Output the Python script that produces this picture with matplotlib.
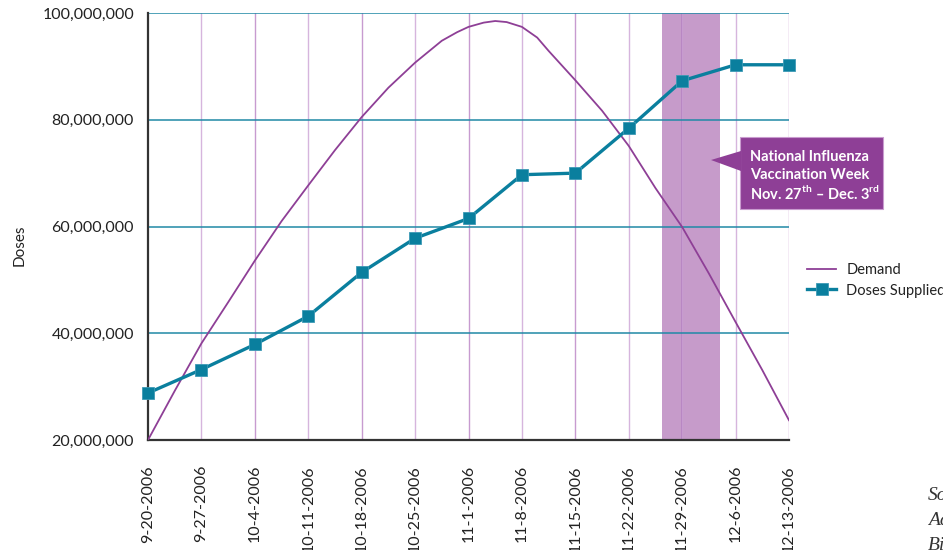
import matplotlib
matplotlib.use("Agg")
import matplotlib.pyplot as plt
import matplotlib.patches as mpatches
import pandas as pd
import numpy as np

plt.rcParams["font.family"] = ["Lato", "DejaVu Sans"]
plt.rcParams["mathtext.fontset"] = "custom"
plt.rcParams["mathtext.rm"] = "Lato"
plt.rcParams["mathtext.bf"] = "Lato:bold"

# Weekly reporting dates and cumulative doses supplied
week_labels = ["9-20-2006", "9-27-2006", "10-4-2006", "10-11-2006", "10-18-2006",
               "10-25-2006", "11-1-2006", "11-8-2006", "11-15-2006", "11-22-2006",
               "11-29-2006", "12-6-2006", "12-13-2006"]
doses_supplied = [28.8e6, 33.2e6, 37.9e6, 43.2e6, 51.4e6, 57.8e6, 61.5e6,
                  69.7e6, 70.0e6, 78.4e6, 87.3e6, 90.3e6, 90.3e6]

# Demand curve, sampled every half week (days after 9-20-2006)
demand_days = [0, 3.5, 7, 10.5, 14, 17.5, 21, 24.5, 28, 31.5, 35, 38.5, 40.5, 42,
               44, 45.5, 47, 49, 51, 52.5, 56, 59.5, 63, 66.5, 70, 73.5, 77, 80.5, 84]
demand = [20.0e6, 29.2e6, 38.1e6, 45.8e6, 53.6e6, 61.0e6, 67.7e6, 74.3e6, 80.5e6,
          86.0e6, 90.7e6, 94.8e6, 96.4e6, 97.4e6, 98.2e6, 98.5e6, 98.3e6, 97.4e6,
          95.4e6, 92.9e6, 87.4e6, 81.7e6, 75.1e6, 67.2e6, 59.9e6, 51.2e6, 42.1e6,
          33.1e6, 23.7e6]

y_ticks = [20e6, 40e6, 60e6, 80e6, 100e6]

# National Influenza Vaccination Week shading
band_start = "2006-11-26 09:00"
band_end = "2006-12-04 00:00"

start = pd.Timestamp("2006-09-20")
week_days = [(pd.to_datetime(s, format="%m-%d-%Y") - start).days for s in week_labels]
band = [(pd.Timestamp(band_start) - start) / pd.Timedelta(days=1),
        (pd.Timestamp(band_end) - start) / pd.Timedelta(days=1)]

teal = "#0a7f9e"
purple = "#8e3f96"

fig = plt.figure(figsize=(9.43, 5.5), dpi=100)
ax = fig.add_axes([148 / 943, 110 / 550, 641 / 943, 427 / 550])

ax.set_xlim(week_days[0], week_days[-1])
ax.set_ylim(y_ticks[0], y_ticks[-1])

# Grid: purple verticals on each week, teal horizontals
for i, d in enumerate(week_days[1:], start=1):
    ax.axvline(d, color="#c79bd0" if i % 2 == 0 else "#d6b5dd", lw=1.0, zorder=1)
for yv in y_ticks[1:]:
    ax.axhline(yv, color="#2089a6", lw=1.1, zorder=1)

ax.axvspan(band[0], band[1], color="#c69bca", zorder=0.5, lw=0)
ax.axvline(week_days[10], color="#b27fbf", lw=1.2, zorder=0.6)

ax.plot(demand_days, demand, color=purple, lw=1.3, zorder=3, label="Demand")
ax.plot(week_days, doses_supplied, color=teal, lw=2.4, marker="s", markersize=8,
        markeredgecolor="#3d9ab5", markeredgewidth=0.6, zorder=4, clip_on=False,
        label="Doses Supplied")

for s in ["top", "right"]:
    ax.spines[s].set_visible(False)
ax.spines["left"].set_color("#333333")
ax.spines["left"].set_linewidth(1.6)
ax.spines["bottom"].set_color("#333333")
ax.spines["bottom"].set_linewidth(1.6)

ax.set_yticks(y_ticks)
ax.set_yticklabels([f"{int(v):,}" for v in y_ticks], fontsize=11.5, color="#222222")
ax.set_xticks(week_days)
ax.set_xticklabels(week_labels, rotation=90, fontsize=11.5, color="#222222",
                   va="top", ha="center")
ax.tick_params(axis="y", length=0, pad=10)
ax.tick_params(axis="x", length=0, pad=18)
ax.set_ylabel("Doses", fontsize=11, color="#222222")
ax.yaxis.set_label_coords(-0.19, 0.455)

leg = ax.legend(loc="upper left", bbox_to_anchor=(807 / 943, 1 - 263 / 550),
                bbox_transform=fig.transFigure, frameon=False, fontsize=10.5,
                handlelength=2.0, handletextpad=0.7, labelspacing=0.45,
                borderaxespad=0, borderpad=0)
for t in leg.get_texts():
    t.set_color("#222222")

# Callout box with pointer
def fx(px):
    return px / 943

def fy(py):
    return 1 - py / 550

box = mpatches.Rectangle((fx(740), fy(209)), fx(883) - fx(740), fy(137) - fy(209),
                         transform=fig.transFigure, facecolor=purple,
                         edgecolor="#c99ccf", lw=0.8, zorder=5)
fig.patches.append(box)
tri = mpatches.Polygon([(fx(711), fy(160)), (fx(741), fy(151)), (fx(741), fy(171))],
                       closed=True, transform=fig.transFigure, facecolor=purple,
                       edgecolor="none", zorder=5)
fig.patches.append(tri)
callout = ["National Influenza", "Vaccination Week",
           r"Nov. 27$^{\mathbf{th}}$ – Dec. 3$^{\mathbf{rd}}$"]
for i, line in enumerate(callout):
    fig.text(fx(750), fy(157 + 18 * i), line, color="white", fontsize=10.5,
             fontweight="bold", va="center", ha="left", zorder=6)

# Source note
src_lines = ["Source:", "Adapted from", "Biologics"]
for i, line in enumerate(src_lines):
    fig.text(fx(928), fy(495 + 25 * i), line, fontsize=14, style="italic",
             family=["Liberation Serif"], color="#333333", va="center", ha="left")

fig.savefig("out.png", dpi=100)
